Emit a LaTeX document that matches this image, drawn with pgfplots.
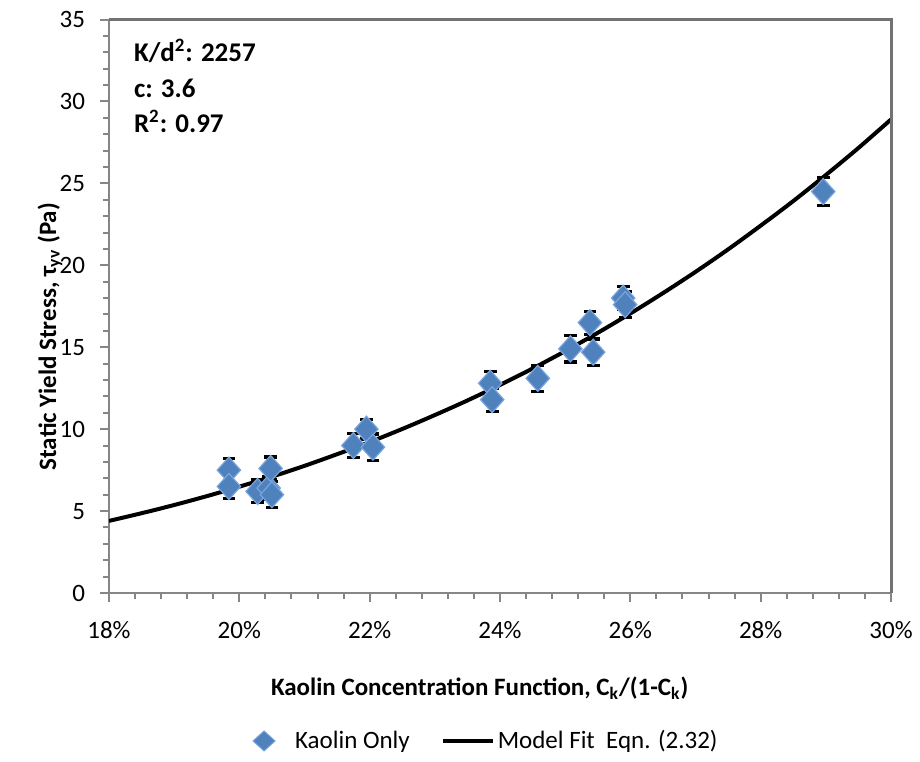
\documentclass[border=0pt]{standalone}
\usepackage{fontspec}
\setmainfont{Carlito}
\usepackage{pgfplots}
\usepackage{pgfplotstable}
\pgfplotsset{compat=1.18}

\definecolor{kaolin}{RGB}{79,129,189}
\definecolor{kaolinedge}{RGB}{120,165,220}
\definecolor{axisgray}{RGB}{134,134,134}

% measured static yield stress (x in percent), symmetric error
\pgfplotstableread{
x      y     e
19.84  7.5   0.70
19.84  6.5   0.75
20.28  6.2   0.70
20.45  6.4   0.70
20.50  6.0   0.80
20.48  7.6   0.70
21.75  9.0   0.75
21.95  10.0  0.60
22.05  8.9   0.80
23.85  12.8  0.70
23.88  11.8  0.70
24.58  13.1  0.80
25.08  14.9  0.80
25.38  16.5  0.70
25.43  14.7  0.80
25.89  18.0  0.70
25.92  17.6  0.80
28.96  24.5  0.85
}\kaolin

% model fit curve
\pgfplotstableread{
x     y
18.0  4.40
18.5  4.87
19.0  5.37
19.5  5.91
20.0  6.49
20.5  7.10
21.0  7.76
21.5  8.47
22.0  9.21
22.5  10.01
23.0  10.86
23.5  11.75
24.0  12.70
24.5  13.70
25.0  14.76
25.5  15.88
26.0  17.06
26.5  18.30
27.0  19.60
27.5  20.97
28.0  22.42
28.5  23.92
29.0  25.51
29.5  27.16
30.0  28.90
}\modelfit

\begin{document}
\begin{tikzpicture}
\path[use as bounding box] (-54.5pt,-84pt) rectangle (405.5pt,296.5pt);
\begin{axis}[
  name=main,
  at={(0,0)}, anchor=south west,
  scale only axis,
  width=391pt, height=286.75pt,
  xmin=18, xmax=30, ymin=0, ymax=35,
  xtick={18,20,22,24,26,28,30},
  xticklabels={18\%,20\%,22\%,24\%,26\%,28\%,30\%},
  minor x tick num=4,
  ytick={0,5,...,35},
  minor y tick num=4,
  tick align=outside,
  xtick pos=bottom, ytick pos=left,
  major tick length=4.5pt, minor tick length=3pt,
  tick style={axisgray, line width=1pt},
  axis line style={axisgray, line width=1pt},
  font=\fontsize{12.5}{15}\selectfont,
  /pgf/number format/assume math mode=true,
  xticklabel style={yshift=-6pt},
  yticklabel style={xshift=-4pt},
  xlabel={\bfseries Kaolin Concentration Function, C\textsubscript{k}/(1-C\textsubscript{k})},
  ylabel={\bfseries Static Yield Stress, τ\textsubscript{yv} (Pa)},
  xlabel style={at={(axis description cs:0.474,-0.166)}, anchor=center},
  ylabel style={at={(axis description cs:-0.0754,0.447)}, anchor=center},
  legend style={at={(axis description cs:0.48,-0.258)}, anchor=center,
    draw=none, legend columns=2, font=\fontsize{12.5}{15}\selectfont,
    nodes={inner sep=1.5pt},
    /tikz/every even column/.append style={column sep=14pt}},
  legend cell align=left,
]
\addplot[only marks, mark=diamond*,
  mark size=6.5pt,
  mark options={xscale=1.2, fill=kaolin, draw=kaolinedge, line width=0.6pt},
  legend image code/.code={
    \path[draw=none, fill=none] (0pt,0pt) -- (22pt,0pt);
    \fill[kaolin, draw=kaolinedge, line width=0.5pt]
      (8pt,5pt) -- (13.5pt,0pt) -- (8pt,-5pt) -- (2.5pt,0pt) -- cycle;},
  error bars/.cd, y dir=both, y explicit,
  error bar style={black, line width=0.8pt},
  error mark options={rotate=90, black, mark size=3.2pt, line width=1.6pt}]
  table[x=x, y=y, y error=e]{\kaolin};
\addlegendentry{Kaolin Only}
\addplot[black, line width=2pt, smooth, no marks,
  legend image code/.code={\draw[black, line width=2pt] (0pt,0pt) -- (25pt,0pt);}]
  table[x=x, y=y]{\modelfit};
\addlegendentry{Model Fit\ \ Eqn. (2.32)}
\node[anchor=base west, font=\fontsize{13.5}{16}\selectfont\bfseries]
  at (rel axis cs:0.023,0.9267) {K/d\textsuperscript{2}: 2257};
\node[anchor=base west, font=\fontsize{13.5}{16}\selectfont\bfseries]
  at (rel axis cs:0.023,0.8639) {c: 3.6};
\node[anchor=base west, font=\fontsize{13.5}{16}\selectfont\bfseries]
  at (rel axis cs:0.023,0.8028) {R\textsuperscript{2}: 0.97};
\end{axis}
% top and right sides of the plot frame
\draw[axisgray!85!black, line width=1.5pt]
  (main.north west) -- (main.north east) -- (main.south east);
\end{tikzpicture}
\end{document}
